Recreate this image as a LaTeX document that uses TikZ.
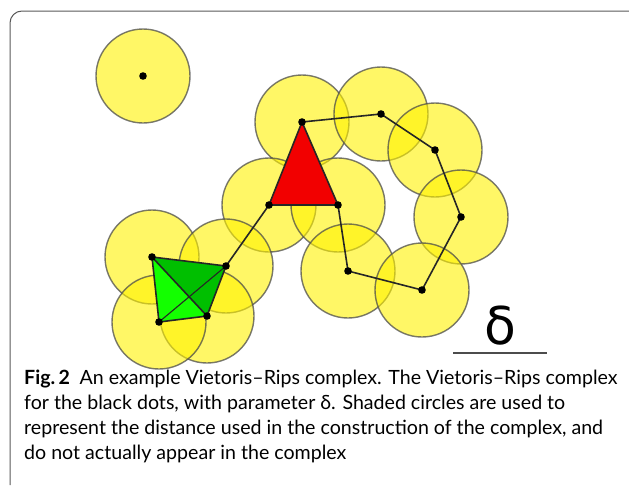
\documentclass[tikz,border=0pt]{standalone}
\usepackage{fontspec}
\setmainfont{Lato}
\newfontfamily\deltafont{DejaVu Sans}
\usetikzlibrary{positioning}

\begin{document}
\begin{tikzpicture}[x=1pt,y=-1pt,
  ball/.style={fill=yellow,fill opacity=.6,draw=black!70,draw opacity=.75,line width=1.4pt},
  edge/.style={line width=1.6pt,black!85},
  dot/.style={fill=black},
  frame/.style={draw=black!65,line width=1pt}]
 \useasboundingbox (0,0) rectangle (629,485);
 % points of the cloud
 \coordinate (i) at (143,76);
 \coordinate (a) at (302,122);
 \coordinate (b) at (381,114);
 \coordinate (c) at (435,150);
 \coordinate (d) at (461,217);
 \coordinate (e) at (269,205);
 \coordinate (f) at (338,205);
 \coordinate (g) at (348,271);
 \coordinate (h) at (422,290);
 \coordinate (p) at (152,257);
 \coordinate (q) at (226,266);
 \coordinate (r) at (207,316);
 \coordinate (s) at (159,322);
 % frame of the figure
 \draw[frame] (10,485) -- (10,23) arc[start angle=180,end angle=270,radius=12] -- (629,11);
 % delta balls
 \foreach \v in {i,a,b,c,d,e,f,g,h,p,q,r,s}
    \path[ball] (\v) circle (47);
 % simplices
 \fill[red!95!black] (a) -- (e) -- (f) -- cycle;
 \fill[green!90!lime] (p) -- (r) -- (s) -- cycle;
 \fill[green!75!black] (p) -- (q) -- (r) -- cycle;
 \draw[edge] (a) -- (e) -- (f) -- cycle;
 \draw[edge] (p) -- (q) -- (r) -- (s) -- cycle;
 \draw[edge] (p) -- (r);
 \draw[edge,line width=1.1pt] (q) -- (s);
 \draw[edge] (q) -- (e);
 \draw[edge] (a) -- (b) -- (c) -- (d) -- (h) -- (g) -- (f);
 \foreach \v in {i,a,b,c,d,e,f,g,h,p,q,r,s}
    \fill[dot] (\v) circle (3.8);
 % scale
 \node[font=\deltafont\fontsize{52}{52}\selectfont,inner sep=0] (delta) at (500,326) {δ};
 \coordinate (sl) at (453,353);
 \coordinate (sr) at (547,353);
 \draw[black!70,line width=1.3pt] (sl) -- (sr);
 % caption
 \node[anchor=north west,align=left,inner sep=0,
    font=\fontsize{19.6}{24.9}\selectfont] (cap) at (24,370)
   {\textbf{Fig.\,2}\enspace An example Vietoris–Rips complex. The Vietoris–Rips complex\\
    for the black dots, with parameter δ. Shaded circles are used to\\
    represent the distance used in the construction of the complex, and\\
    do not actually appear in the complex};
\end{tikzpicture}
\end{document}
